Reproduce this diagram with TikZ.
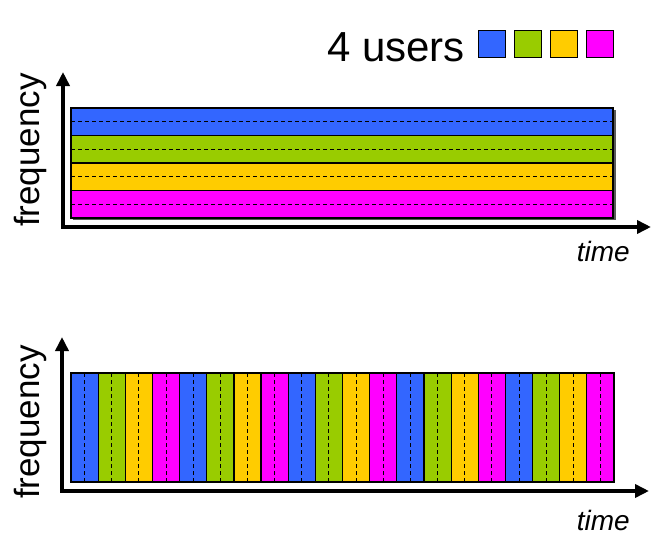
\documentclass[tikz,border=0pt]{standalone}
\usepackage{fontspec}
\setmainfont{Liberation Sans}
\usetikzlibrary{arrows.meta}
\definecolor{ublue}{HTML}{3366FF}
\definecolor{ugreen}{HTML}{99CC00}
\definecolor{uyellow}{HTML}{FFCC00}
\definecolor{umag}{HTML}{FF00FF}
\begin{document}
\begin{tikzpicture}[x=1pt,y=-1pt,
  axis/.style={line width=3.5pt,line join=miter,{Triangle[length=14pt,width=13pt]}-{Triangle[length=14pt,width=13pt]}},
  band/.style={draw=black,line width=1.2pt},
  mid/.style={line width=0.9pt,dash pattern=on 4pt off 3pt},
  legsq/.style={draw=black,line width=1pt,minimum size=27pt,inner sep=0pt},
  axlabel/.style={rotate=90,inner sep=0pt,font=\fontsize{35}{40}\selectfont},
  tlabel/.style={inner sep=0pt,anchor=base east,font=\itshape\fontsize{28}{32}\selectfont}]
\useasboundingbox (0,0) rectangle (662,546);
% legend
\node[inner sep=0pt,anchor=base east,font=\fontsize{42}{50}\selectfont] (users) at (465,61) {4 users};
\node[legsq,fill=ublue] (lb) at (491.7,43.7) {};
\node[legsq,fill=ugreen] (lg) at (527.7,43.7) {};
\node[legsq,fill=uyellow] (ly) at (563.7,43.7) {};
\node[legsq,fill=umag] (lm) at (599.7,43.7) {};
% top panel (FDM)
\fill[black!65] (73,110) rectangle (615.5,220);
\foreach \c [count=\i from 0] in {ublue,ugreen,uyellow,umag}{
  \pgfmathsetmacro{\ya}{108+27.5*\i}
  \pgfmathsetmacro{\yb}{108+27.5*(\i+1)}
  \pgfmathsetmacro{\ym}{108+27.5*(\i+0.5)}
  \fill[\c] (71,\ya) rectangle (613,\yb);
  \draw[mid] (71,\ym) -- (613,\ym);
  \draw[line width=1.2pt] (71,\ya) -- (613,\ya);
}
\draw[band] (71,108) rectangle (613,218);
\coordinate (f1) at (63,72);
\coordinate (o1) at (63,227);
\coordinate (t1) at (651,227);
\draw[axis] (f1) -- (o1) -- (t1);
\node[axlabel] (fq1) at (30,150) {frequency};
\node[tlabel] (tm1) at (630,261) {time};
% bottom panel (TDM)
\foreach \k in {0,...,19}{
  \pgfmathtruncatemacro{\m}{mod(\k,4)}
  \pgfmathsetmacro{\xa}{71+27.15*\k}
  \pgfmathsetmacro{\xb}{71+27.15*(\k+1)}
  \pgfmathsetmacro{\xm}{71+27.15*(\k+0.5)}
  \ifcase\m \def\cc{ublue}\or \def\cc{ugreen}\or \def\cc{uyellow}\or \def\cc{umag}\fi
  \fill[\cc] (\xa,373) rectangle (\xb,482);
  \draw[mid] (\xm,373) -- (\xm,482);
  \draw[line width=1.2pt] (\xa,373) -- (\xa,482);
}
\draw[band] (71,373) rectangle (614,482);
\coordinate (f2) at (62,337);
\coordinate (o2) at (62,491);
\coordinate (t2) at (649,491);
\draw[axis] (f2) -- (o2) -- (t2);
\node[axlabel] (fq2) at (30,422) {frequency};
\node[tlabel] (tm2) at (630,530) {time};
\end{tikzpicture}
\end{document}
